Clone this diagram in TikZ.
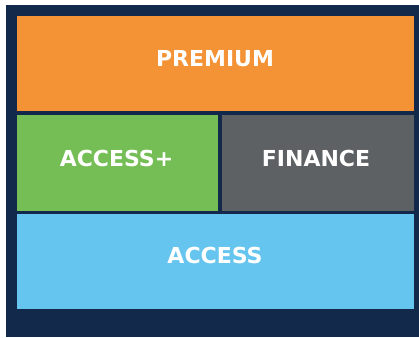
\documentclass[tikz,border=0pt]{standalone}
\usepackage{fontspec}
\setmainfont{DejaVu Sans}
\definecolor{navy}{HTML}{12294B}
\definecolor{cpremium}{HTML}{F39336}
\definecolor{caccplus}{HTML}{74BE55}
\definecolor{cfinance}{HTML}{5E6163}
\definecolor{caccess}{HTML}{65C5EF}
\tikzset{
  tier/.style={rectangle, inner sep=0pt, outer sep=0pt, draw=none, anchor=north west},
  tiertext/.style={text=white, font=\bfseries\fontsize{22}{22}\selectfont, inner sep=0pt}
}
\begin{document}
\begin{tikzpicture}[x=1pt,y=-1pt]
\useasboundingbox (0,0) rectangle (419,337);
\fill[white] (0,0) rectangle (419,337);
\fill[navy] (6,5) rectangle (419,337);
\node[tier, fill=cpremium, minimum width=397pt, minimum height=95pt] (premium) at (17,16) {};
\node[tier, fill=caccplus, minimum width=201pt, minimum height=96pt] (accplus) at (17,115) {};
\node[tier, fill=cfinance, minimum width=192pt, minimum height=96pt] (finance) at (222,115) {};
\node[tier, fill=caccess, minimum width=397pt, minimum height=95pt] (access) at (17,214) {};
\node[tiertext] (tpremium) at (215,58.5) {PREMIUM};
\node[tiertext] (taccplus) at (116.5,158) {ACCESS+};
\node[tiertext] (tfinance) at (316,158) {FINANCE};
\node[tiertext] (taccess) at (215,255) {ACCESS};
\end{tikzpicture}
\end{document}
